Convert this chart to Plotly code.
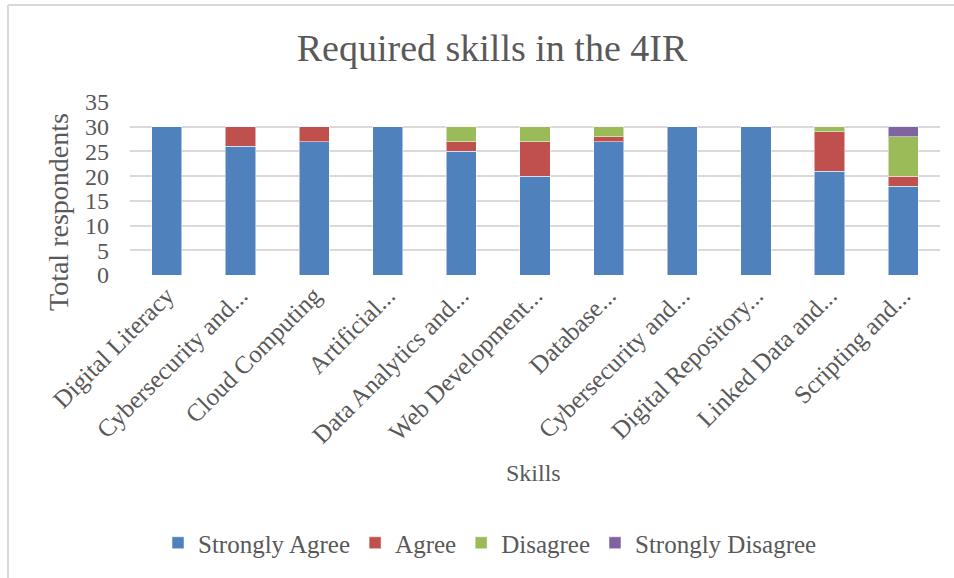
import plotly.graph_objects as go

categories = ["Digital Literacy", "Cybersecurity and...", "Cloud Computing", "Artificial...",
              "Data Analytics and...", "Web Development...", "Database...", "Cybersecurity and...",
              "Digital Repository...", "Linked Data and...", "Scripting and..."]
strongly_agree = [30, 26, 27, 30, 25, 20, 27, 30, 30, 21, 18]
agree = [0, 4, 3, 0, 2, 7, 1, 0, 0, 8, 2]
disagree = [0, 0, 0, 0, 3, 3, 2, 0, 0, 1, 8]
strongly_disagree = [0, 0, 0, 0, 0, 0, 0, 0, 0, 0, 2]
y_ticks = [0, 5, 10, 15, 20, 25, 30, 35]

FONT = "Liberation Serif"
TXT = "#595959"
x_pos = list(range(len(categories)))

fig = go.Figure()
for name, vals, col in [("Strongly Agree", strongly_agree, "#4F81BD"),
                        ("Agree", agree, "#C0504D"),
                        ("Disagree", disagree, "#9BBB59"),
                        ("Strongly Disagree", strongly_disagree, "#8064A2")]:
    fig.add_trace(go.Bar(x=x_pos, y=vals, name=name,
                         marker=dict(color=col, line=dict(color="rgba(255,255,255,0.5)", width=1))))

W, H = 954, 578
L, R, T, B = 130, 14, 102, 303
pw, ph = W - L - R, H - T - B

def px(x):
    return (x - L) / pw

def py(y):
    return (H - B - y) / ph

fig.update_layout(
    barmode="stack",
    bargap=0.59,
    width=W, height=H,
    margin=dict(l=L, r=R, t=T, b=B),
    paper_bgcolor="white", plot_bgcolor="white",
    font=dict(family=FONT, color=TXT, size=22),
    title=dict(text="Required skills in the 4IR", x=492 / W, xref="container", xanchor="center",
               y=1 - 48 / H, yref="container", yanchor="middle",
               font=dict(size=38, color=TXT, family=FONT)),
    xaxis=dict(tickmode="array", tickvals=x_pos, ticktext=categories, tickangle=-45,
               range=[-0.5, len(categories) - 0.5], showgrid=False, zeroline=False,
               showline=False, ticks="", tickfont=dict(size=25, color=TXT)),
    yaxis=dict(range=[0, 35], tickvals=y_ticks, showgrid=True, gridcolor="#D9D9D9", gridwidth=1.5,
               zeroline=False, ticks="", ticklen=0, ticklabelstandoff=20,
               tickfont=dict(size=24, color=TXT)),
    legend=dict(orientation="h", x=px(490), xanchor="center", y=py(543), yanchor="middle",
                font=dict(size=25, color=TXT), itemwidth=30, tracegroupgap=0,
                traceorder="normal"),
    annotations=[
        dict(text="Total respondents", x=px(58), y=py(212), xref="paper", yref="paper",
             xanchor="center", yanchor="middle",
             textangle=-90, showarrow=False, font=dict(size=28, color=TXT, family=FONT)),
        dict(text="Skills", x=px(533), y=py(473), xref="paper", yref="paper",
             xanchor="center", yanchor="middle",
             showarrow=False, font=dict(size=24, color=TXT, family=FONT)),
    ],
    shapes=[
        dict(type="line", xref="paper", yref="paper", x0=px(8), x1=px(8), y0=py(5), y1=py(580),
             line=dict(color="#D9D9D9", width=2)),
        dict(type="line", xref="paper", yref="paper", x0=px(8), x1=px(956), y0=py(5), y1=py(5),
             line=dict(color="#D9D9D9", width=2)),
    ],
)

fig.write_html("out.html")
